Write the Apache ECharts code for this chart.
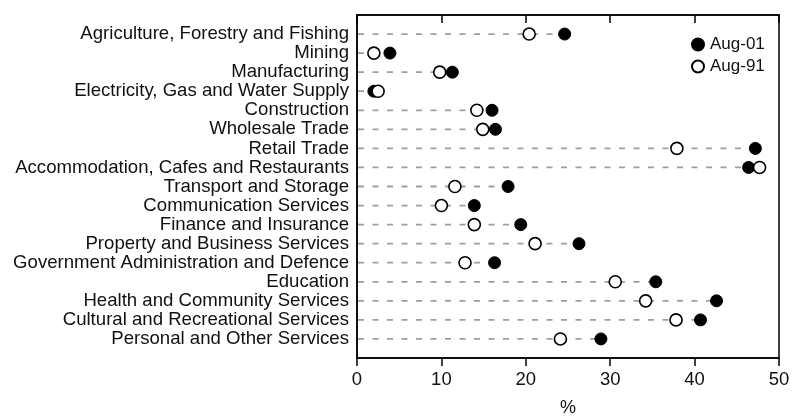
<!DOCTYPE html>
<html>
<head>
<meta charset="utf-8">
<script src="https://cdn.jsdelivr.net/npm/echarts@6/dist/echarts.min.js"></script>
<style>html,body{margin:0;padding:0;background:#fff}#c{width:792px;height:416px}</style>
</head>
<body>
<div id="c"></div>
<script>
const categories = [
  'Agriculture, Forestry and Fishing',
  'Mining',
  'Manufacturing',
  'Electricity, Gas and Water Supply',
  'Construction',
  'Wholesale Trade',
  'Retail Trade',
  'Accommodation, Cafes and Restaurants',
  'Transport and Storage',
  'Communication Services',
  'Finance and Insurance',
  'Property and Business Services',
  'Government Administration and Defence',
  'Education',
  'Health and Community Services',
  'Cultural and Recreational Services',
  'Personal and Other Services'
];
const aug01 = [24.6, 3.9, 11.3, 2.0, 16.0, 16.4, 47.2, 46.4, 17.9, 13.9, 19.4, 26.3, 16.3, 35.4, 42.6, 40.7, 28.9];
const aug91 = [20.4, 2.0, 9.8, 2.5, 14.2, 14.9, 37.9, 47.7, 11.6, 10.0, 13.9, 21.1, 12.8, 30.6, 34.2, 37.8, 24.1];
const xTicks = [0, 10, 20, 30, 40, 50];

const font = 'Liberation Sans';
const axisCats = [''].concat(categories).concat(['']);
const dashData = categories.map((c, i) => [Math.max(aug01[i], aug91[i]), i + 1]);

const chart = echarts.init(document.getElementById('c'));
chart.setOption({
  animation: false,
  grid: { left: 357, right: 13, top: 15, bottom: 58, show: true, borderColor: '#000', borderWidth: 1.5,
    containLabel: false, outerBoundsMode: 'none' },
  legend: {
    orient: 'vertical', left: 686, top: 31, itemWidth: 12, itemHeight: 12, itemGap: 5,
    textStyle: { fontFamily: font, fontSize: 17, color: '#111', padding: [0, 0, 0, 1] },
    data: ['Aug-01', 'Aug-91']
  },
  xAxis: [{
    type: 'value', min: xTicks[0], max: xTicks[xTicks.length - 1], interval: 10, position: 'bottom',
    name: '%', nameLocation: 'middle', nameGap: 41,
    nameTextStyle: { fontFamily: font, fontSize: 18, color: '#111' },
    axisLine: { show: true, lineStyle: { color: '#000', width: 1.5 } },
    axisTick: { show: true, inside: false, length: 8, lineStyle: { color: '#000', width: 1.5 } },
    axisLabel: { fontFamily: font, fontSize: 18.5, color: '#111', margin: 12 },
    splitLine: { show: false }
  }, {
    type: 'value', min: xTicks[0], max: xTicks[xTicks.length - 1], interval: 10, position: 'top',
    axisLine: { show: true, lineStyle: { color: '#000', width: 1.5 } },
    axisTick: { show: true, inside: true, length: 8, lineStyle: { color: '#000', width: 1.5 } },
    axisLabel: { show: false },
    splitLine: { show: false }
  }],
  yAxis: {
    type: 'category', data: axisCats, boundaryGap: false, inverse: true,
    axisLine: { show: true, lineStyle: { color: '#000', width: 1.5 } },
    axisTick: { show: false },
    axisLabel: { fontFamily: font, fontSize: 18.6, color: '#111', margin: 8, interval: 0 },
    splitLine: { show: false }
  },
  series: [{
    type: 'custom', name: 'dash', silent: true, z: 1,
    data: dashData,
    encode: { x: 0, y: 1 },
    renderItem: function (params, api) {
      const y = api.value(1);
      const p0 = api.coord([0, y]);
      const p1 = api.coord([api.value(0), y]);
      return { type: 'line', shape: { x1: p0[0] + 1, y1: p0[1], x2: p1[0], y2: p1[1] },
        style: { stroke: '#9e9e9e', lineWidth: 1.8, lineDash: [6, 8.5] } };
    }
  }, {
    type: 'scatter', name: 'Aug-01', z: 2, symbol: 'circle', symbolSize: 12,
    itemStyle: { color: '#000', borderColor: '#000', borderWidth: 1, opacity: 1 },
    data: aug01.map((v, i) => [v, i + 1])
  }, {
    type: 'scatter', name: 'Aug-91', z: 3, symbol: 'circle', symbolSize: 12,
    itemStyle: { color: '#fff', borderColor: '#000', borderWidth: 1.6, opacity: 1 },
    data: aug91.map((v, i) => [v, i + 1])
  }]
});
</script>
</body>
</html>
